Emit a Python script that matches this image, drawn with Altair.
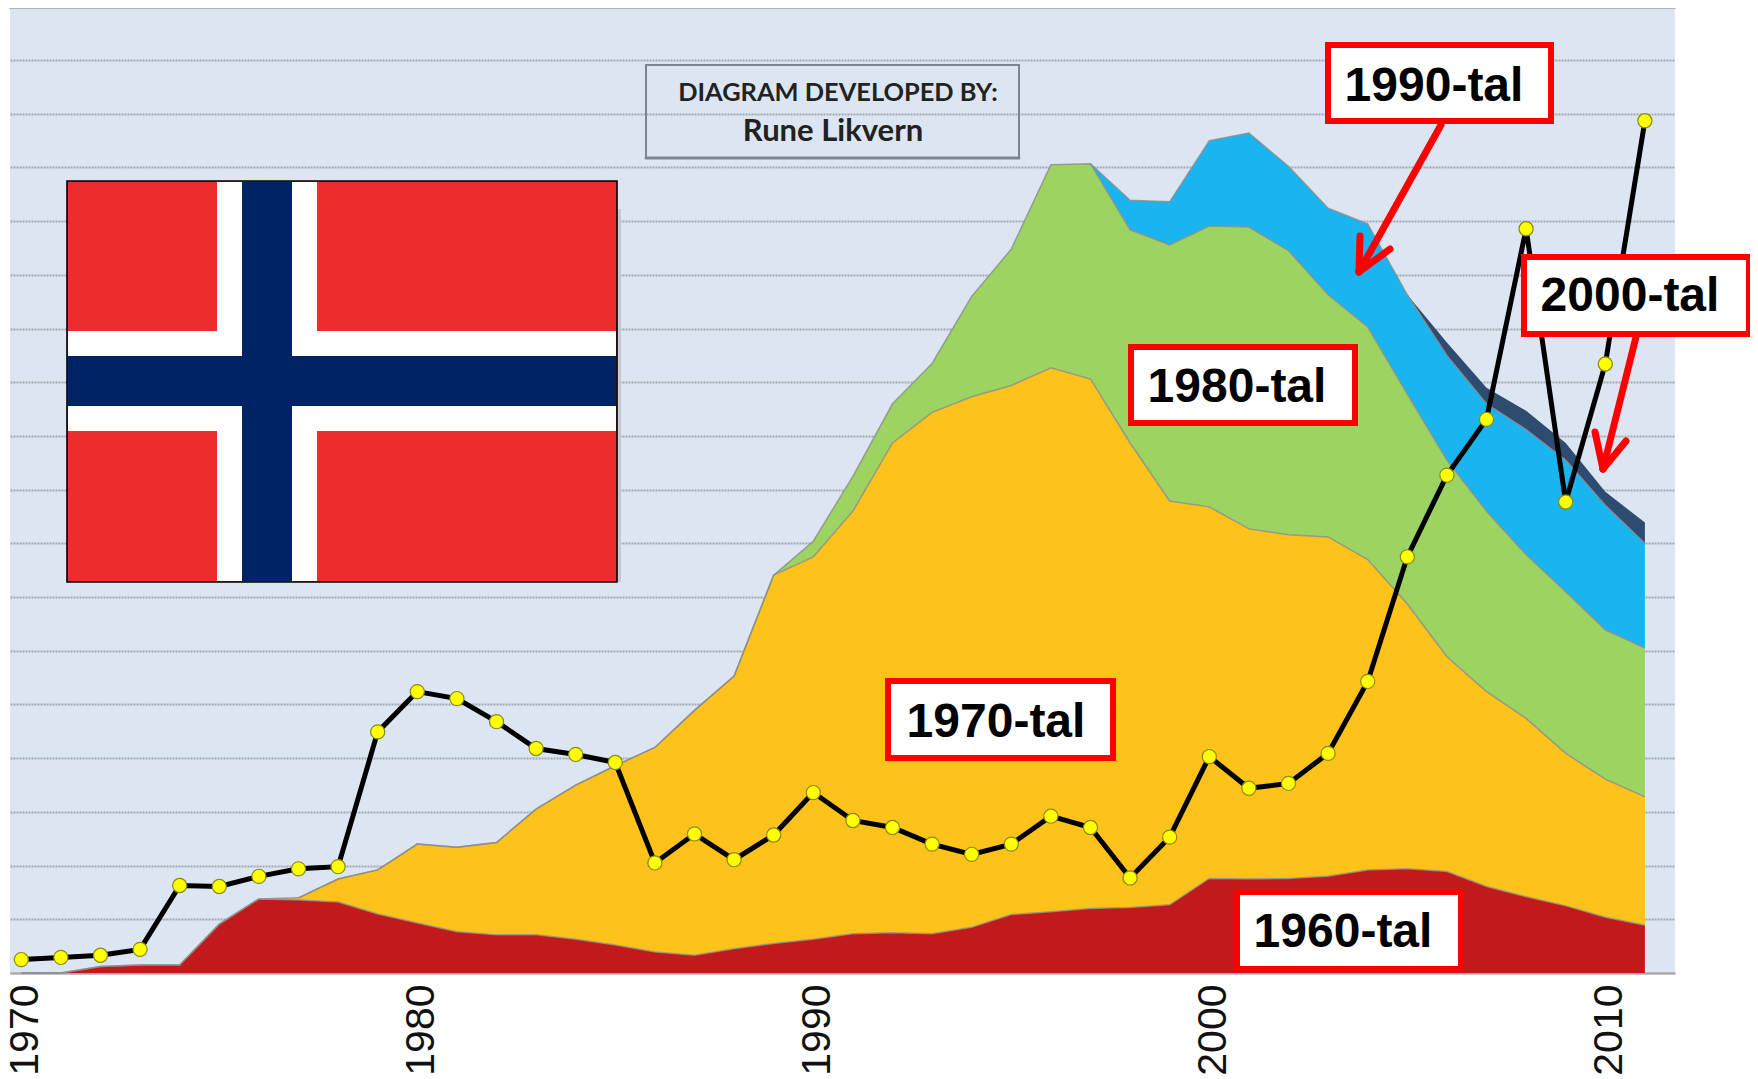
import altair as alt
import pandas as pd

years = list(range(1970, 2012))
tick_years = [1970, 1980, 1990, 2000, 2010]
grid_values = list(range(0, 18))

top_1960 = [0, 0, .12, .15, .15, .91, 1.38, 1.36, 1.32, 1.10, .93, .77, .71, .71, .63, .52, .39, .33, .45, .55,
            .63, .73, .75, .73, .85, 1.09, 1.14, 1.20, 1.22, 1.27, 1.76, 1.75, 1.76, 1.80, 1.92, 1.94, 1.89,
            1.61, 1.42, 1.25, 1.04, .89]
top_1970 = top_1960[:7] + [1.40, 1.75, 1.92, 2.40, 2.34, 2.43, 3.05, 3.5, 3.86, 4.2, 4.89, 5.53, 7.41, 7.75, 8.6,
                           9.87, 10.44, 10.73, 10.94, 11.27, 11.06, 9.87, 8.79, 8.68, 8.27, 8.16, 8.12, 7.70,
                           6.87, 5.89, 5.24, 4.74, 4.09, 3.61, 3.28]
top_1980 = top_1970[:19] + [7.41, 8.04, 9.25, 10.6, 11.35, 12.6, 13.48, 15.05, 15.07, 13.84, 13.56, 13.91, 13.89,
                            13.45, 12.63, 12.03, 10.78, 9.55, 8.6, 7.79, 7.1, 6.39, 6.05]
top_1990 = top_1980[:28] + [14.39, 14.36, 15.5, 15.64, 15.02, 14.24, 13.95, 12.63, 11.5, 10.6, 10.12, 9.55, 8.71, 8.0]
top_2000 = top_1990[:35] + [12.63, 11.74, 10.9, 10.47, 9.87, 8.96, 8.39]
line_values = [.25, .29, .33, .44, 1.63, 1.61, 1.80, 1.94, 1.98, 4.49, 5.24, 5.11, 4.68, 4.18, 4.07, 3.92, 2.05,
               2.59, 2.11, 2.57, 3.36, 2.84, 2.71, 2.40, 2.21, 2.40, 2.92, 2.71, 1.77, 2.53, 4.03, 3.44, 3.53,
               4.09, 5.43, 7.75, 9.27, 10.31, 13.86, 8.77, 11.34, 15.87]

df = pd.DataFrame({
    "year": years, "base": [0] * len(years),
    "t60": top_1960, "t70": top_1970, "t80": top_1980, "t90": top_1990, "t00": top_2000,
    "line": line_values,
})

X = alt.X("year:Q", scale=alt.Scale(domain=[1969.715, 2011.76], nice=False, zero=False),
          axis=alt.Axis(values=tick_years, format="d", labelAngle=270, labelAlign="right", labelBaseline="middle",
                        labelFont="Liberation Sans", labelFontSize=41, labelColor="#111111", labelPadding=11,
                        labelOffset=4, ticks=False, domainColor="#A6A6A6", domainWidth=2, grid=False, title=None,
                        labelOverlap=False, labelFlush=False))
YS = alt.Scale(domain=[0, 17.97], nice=False, zero=True)
Y_AXIS = alt.Axis(values=grid_values, labels=False, ticks=False, domain=False, grid=True, title=None,
                  gridColor="#A4A8AE", gridWidth=2, gridDash=[2, 1])


def band(lo, hi, color):
    return alt.Chart(df).mark_area(color=color, opacity=0.98, interpolate="linear").encode(
        x=X, y=alt.Y(f"{hi}:Q", scale=YS, axis=Y_AXIS), y2=alt.Y2(f"{lo}:Q"))


def edge(field, start=1970):
    return alt.Chart(df[df.year >= start]).mark_line(color="#8C8C8C", strokeWidth=1.5, opacity=0.8).encode(
        x=X, y=alt.Y(f"{field}:Q", scale=YS, axis=Y_AXIS))


one = pd.DataFrame({"i": [0]})


def px(v):
    return alt.value(v - 10)


def py(v):
    return alt.value(v - 8)


def rect(x0, x1, y0, y1, **kw):
    return alt.Chart(one).mark_rect(**kw).encode(x=px(x0), x2=px(x1), y=py(y0), y2=py(y1))


def seg(x0, y0, x1, y1, color="#FF0000", width=7):
    return alt.Chart(one).mark_rule(color=color, strokeWidth=width, strokeCap="round").encode(
        x=px(x0), x2=px(x1), y=py(y0), y2=py(y1))


def label(txt, x, y, size=48, font="Liberation Sans", weight="bold", color="#000000"):
    return alt.Chart(one).mark_text(text=txt, font=font, fontSize=size, fontWeight=weight, color=color,
                                    align="center", baseline="middle").encode(x=px(x), y=py(y))


def callout(txt, x0, x1, y0, y1, tx, ty):
    return [rect(x0 + 3, x1 - 3, y0 + 3, y1 - 3, fill="#FFFFFF", stroke="#FF0000", strokeWidth=6),
            label(txt, tx, ty)]


layers = [
    band("base", "t60", "#C11515"),
    band("t60", "t70", "#FDC216"),
    band("t70", "t80", "#9BD25E"),
    band("t80", "t90", "#14B4F0"),
    band("t90", "t00", "#2A476E"),
    edge("t60"), edge("t70"), edge("t80", 1977), edge("t90", 1997),
    seg(10, 8, 1675, 8, color="#B0B3B8", width=2),
    alt.Chart(df).mark_line(color="#000000", strokeWidth=5).encode(x=X, y=alt.Y("line:Q", scale=YS, axis=Y_AXIS)),
    alt.Chart(df).mark_point(filled=True, fill="#FFFF00", stroke="#8A8A10", strokeWidth=1.2, size=200,
                             opacity=1, shape="circle").encode(x=X, y=alt.Y("line:Q", scale=YS, axis=Y_AXIS)),
    # flag
    rect(617, 621, 209, 582, fill="#C3CAD3"),
    rect(67, 617, 181, 582, fill="#EE2C2F", stroke="#000000", strokeWidth=1.6),
    rect(217, 317, 182, 581, fill="#FFFFFF"),
    rect(68, 616, 331, 431, fill="#FFFFFF"),
    rect(242, 292, 182, 581, fill="#002366"),
    rect(68, 616, 356, 406, fill="#002366"),
    # credit box
    rect(646, 1019, 65, 158, fillOpacity=0, stroke="#7C8692", strokeWidth=2),
    seg(646, 158, 1019, 158, color="#7C8692", width=3),
    label("DIAGRAM DEVELOPED BY:", 838, 93, size=25.4, font="Lato", color="#222222"),
    label("Rune Likvern", 833, 132, size=31, font="Lato", color="#222222"),
    # arrows
    seg(1441, 125, 1359, 272), seg(1359, 272, 1360, 236), seg(1359, 272, 1390, 249),
    seg(1636, 337, 1603, 469), seg(1603, 469, 1595, 432), seg(1603, 469, 1626, 441),
]
layers += callout("1990-tal", 1325, 1554, 42, 124, 1434, 87)
layers += callout("1980-tal", 1128, 1358, 344, 426, 1237, 388)
layers += callout("2000-tal", 1521, 1752, 254, 337, 1630, 297)
layers += callout("1970-tal", 885, 1116, 678, 761, 996, 723)
layers += callout("1960-tal", 1234, 1464, 889, 972, 1343, 933)

chart = alt.layer(*layers).properties(
    width=1665, height=965,
    autosize=alt.AutoSizeParams(type="none"),
    padding={"left": 2, "top": 0, "right": 75, "bottom": 105},
    background="#FFFFFF",
).configure_view(fill="#DCE6F2", stroke=None)

chart.save("out.html", embed_options={"renderer": "svg", "actions": False})
